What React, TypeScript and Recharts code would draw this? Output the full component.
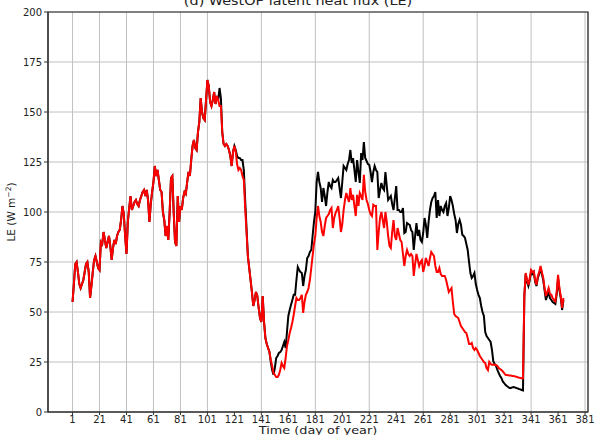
import React from "react";
import {
  LineChart,
  Line,
  XAxis,
  YAxis,
  CartesianGrid,
  ReferenceArea,
} from "recharts";

// daily latent heat flux, W m-2, day of year 1..365
const redLE = [
  55, 64, 74, 75, 70, 64, 62, 64, 66, 70,
  74, 75, 70, 57, 63, 70, 76, 78, 75, 72,
  71, 85, 84, 90, 86, 82, 85, 88, 83, 76,
  82, 86, 84, 88, 90, 91, 96, 103, 99, 88,
  79, 95, 102, 108, 101, 103, 105, 106, 104, 103,
  106, 108, 110, 111, 108, 111, 106, 95, 104, 110,
  115, 123, 118, 121, 116, 111, 110, 100, 96, 88,
  93, 86, 100, 117, 118, 100, 85, 83, 108, 95,
  103, 101, 107, 110, 109, 115, 120, 118, 126, 133,
  136, 132, 131, 140, 145, 157, 150, 147, 146, 156,
  166, 163, 155, 153, 156, 160, 154, 158, 156, 153,
  153, 140, 134, 133, 134, 133, 131, 128, 123, 130,
  133, 130, 124, 121, 122, 121, 118, 116, 102, 90,
  78, 72, 66, 60, 53, 56, 60, 58, 52, 47,
  45, 58, 45, 37, 34, 32, 30, 26, 23, 19.5,
  18.6, 17.5, 17.5, 18.6, 21, 24.5, 23, 22, 27, 33,
  36, 39.5, 42, 45, 48.6, 53, 57, 56, 56, 57,
  58.6, 49.5, 55, 58.6, 60, 62, 66, 72, 78, 84,
  88, 97, 103, 98, 95, 90, 88, 93, 97, 98,
  99, 101, 102, 92, 97, 99.5, 101, 103, 97, 90,
  94, 101, 106, 109.5, 107, 105, 112, 106, 108.6, 103,
  98, 108.6, 103, 109.5, 108, 106, 118.6, 110, 106, 104,
  101, 99, 98, 103.6, 103, 103, 81, 90, 97, 100,
  96, 92, 100, 95, 88, 83, 82, 90, 96, 88,
  86, 92, 89, 86, 85, 79, 73, 78, 81, 79,
  78, 79, 78, 68, 74, 79, 76, 73, 75, 76,
  70, 73, 77, 75, 73, 77, 80, 79, 78, 73,
  70, 70, 72, 69, 68, 68, 68, 66, 63, 60,
  61, 62, 55, 49, 48, 47.5, 47, 45, 43, 42,
  41, 40, 39.5, 37, 34, 34, 34.5, 32, 31, 32,
  31, 29.5, 28, 27, 26, 25, 24.5, 22, 21, 25,
  24, 23.6, 23.6, 23.6, 23.5, 23, 22, 21.5, 21, 20.3,
  19.5, 18.6, 18.5, 18.4, 18.3, 18.2, 18, 18, 17.8, 17.6,
  17.4, 17.2, 17, 16.9, 16.8,
  58, 69.5, 66, 63.6, 67, 71, 70, 70.3, 66, 63.6,
  68, 70, 73, 70, 67, 62, 58, 60, 62, 59,
  58.6, 57, 56, 55.3, 60, 68.6, 62, 58, 52, 57,
];

const blackLE = [
  55, 64, 74, 75, 70, 64, 62, 64, 66, 70,
  74, 75, 70, 57, 63, 70, 76, 78, 75, 72,
  71, 85, 84, 90, 86, 82, 85, 88, 83, 76,
  82, 86, 84, 88, 90, 91, 96, 103, 99, 88,
  79, 95, 102, 108, 101, 103, 105, 106, 104, 103,
  106, 108, 110, 111, 108, 111, 106, 95, 104, 110,
  115, 123, 118, 121, 116, 111, 110, 100, 96, 88,
  93, 86, 100, 117, 118, 100, 85, 83, 108, 95,
  103, 101, 107, 110, 109, 115, 120, 118, 126, 133,
  136, 132, 131, 140, 145, 157, 150, 147, 146, 156,
  166, 163, 155, 153, 156, 160, 154, 158, 156, 162,
  157, 140, 134, 133, 134, 133, 131, 128, 123, 130,
  133, 131, 128, 127, 127, 126, 126, 121, 106, 92,
  78, 72, 66, 60, 53, 56, 60, 58, 52, 47,
  45, 58, 45, 37, 34, 32, 30, 25, 21, 18.6,
  22, 27, 28, 29.5, 30, 31, 33, 35, 32, 40,
  48, 51, 53.6, 56, 58.6, 58.6, 66, 72.5, 71, 70,
  69.5, 63, 68, 71, 77, 78, 80, 81, 88, 95,
  100, 115, 120, 115, 112, 105, 112, 108, 103, 110,
  115, 113, 112, 116, 115, 115, 116, 117, 112, 107,
  115, 123, 122, 121, 124, 126, 131, 124.5, 127, 121,
  115, 126, 120, 114.5, 129.5, 126, 135, 127, 125.5, 124,
  123.6, 120, 115, 120, 123, 121, 120, 107, 111, 114.5,
  112, 111, 120, 113, 106, 107, 108, 104, 101, 107,
  113, 101, 101, 100, 100, 102, 89.5, 90, 94.5, 94,
  93.6, 91, 90, 81, 88, 94.5, 88, 91, 86, 85,
  89.5, 97, 93.6, 87, 95, 101, 105, 107, 108, 110,
  97, 106, 98, 103, 101, 100, 103, 104.5, 98, 102,
  108, 106, 103, 99, 96, 89.5, 94, 96, 93.6, 88.6,
  88, 87, 84, 81, 75, 69.5, 67, 68, 69.5, 64,
  61, 58.6, 57, 53, 50, 48, 40, 38, 37, 36,
  35, 31, 25.3, 24, 23, 21, 19.5, 18, 17, 15.3,
  14.5, 13.6, 13, 12.5, 12, 12, 12.3, 12.5, 12.3, 12,
  11.8, 11.5, 11.3, 11, 10.8,
  58, 69, 65, 63, 66, 70, 69, 70, 65, 63,
  67, 69, 72, 69, 66, 61, 56, 58, 60, 57,
  56, 55, 54.5, 54, 59, 67, 61, 57, 51, 56,
];

const days = redLE.map((_, i) => i + 1);
const xTicks = [1, 21, 41, 61, 81, 101, 121, 141, 161, 181, 201, 221, 241, 261, 281, 301, 321, 341, 361, 381];
const yTicks = [0, 25, 50, 75, 100, 125, 150, 175, 200];

const data = days.map((d, i) => ({ day: d, black: blackLE[i], red: redLE[i] }));

const font = "'DejaVu Sans', sans-serif";

export default function App() {
  return (
    <div style={{ position: "relative", width: 598, height: 435, overflow: "hidden", background: "#fff" }}>
      <style>{`
        body { margin: 0; }
        .recharts-xAxis .recharts-cartesian-axis-tick-value { transform-box: fill-box; transform-origin: center; transform: scaleX(1.12); }
        .recharts-yAxis .recharts-cartesian-axis-tick-value { transform-box: fill-box; transform-origin: right center; transform: scaleX(1.15); }
      `}</style>
      <LineChart
        width={598}
        height={435}
        data={data}
        margin={{ top: 12, right: 10, bottom: 0, left: 0 }}
      >
        <CartesianGrid stroke="#c0c0c0" strokeWidth={1} />
        <XAxis
          dataKey="day"
          type="number"
          domain={[-17.2, 383.2]}
          ticks={xTicks}
          allowDataOverflow
          height={23}
          tickSize={3}
          tickMargin={1}
          stroke="#333"
          tick={{ fontSize: 10, fontFamily: font, fill: "#222" }}
        />
        <YAxis
          domain={[0, 200]}
          ticks={yTicks}
          width={48}
          tickSize={4}
          tickMargin={2}
          stroke="#333"
          tick={{ fontSize: 10, fontFamily: font, fill: "#222" }}
        />
        <ReferenceArea x1={-17.2} x2={383.2} y1={0} y2={200} fill="none" stroke="#222" strokeWidth={1.2} />
        <Line type="linear" dataKey="black" stroke="#000" strokeWidth={2} dot={false} isAnimationActive={false} />
        <Line type="linear" dataKey="red" stroke="#ff0000" strokeWidth={2} dot={false} isAnimationActive={false} />
      </LineChart>
      <svg width={598} height={435} style={{ position: "absolute", left: 0, top: 0, pointerEvents: "none" }}>
        <text transform="translate(298,5) scale(1.2,1)" textAnchor="middle" fontSize={12} fontFamily={font} fill="#222">
          (d) WestOP latent heat flux (LE)
        </text>
        <text transform="translate(318,434) scale(1.17,1)" textAnchor="middle" fontSize={11} fontFamily={font} fill="#222">
          Time (day of year)
        </text>
        <text transform="translate(15,212) rotate(-90)" textAnchor="middle" fontSize={10.5} fontFamily={font} fill="#222">
          LE (W m<tspan dy={-4} fontSize={7.5}>−2</tspan><tspan dy={4}>)</tspan>
        </text>
      </svg>
    </div>
  );
}
